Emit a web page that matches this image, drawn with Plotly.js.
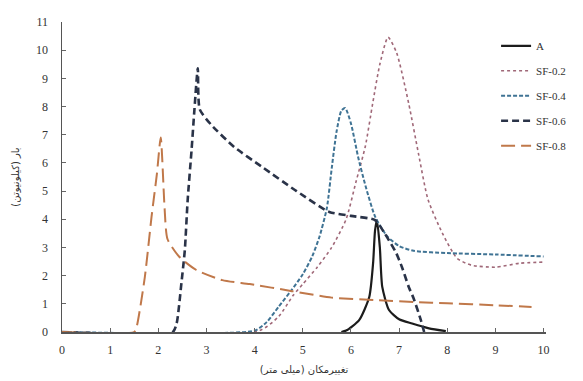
<!DOCTYPE html>
<html><head><meta charset="utf-8">
<script src="https://cdn.plot.ly/plotly-3.0.1.min.js"></script>
<style>html,body{margin:0;padding:0;background:#fff}#c{width:583px;height:381px}</style>
</head><body><div id="c"></div>
<script>
const names = ["A", "SF-0.2", "SF-0.4", "SF-0.6", "SF-0.8"];
const xA = [5.8, 5.9, 6.17, 6.38, 6.46, 6.5, 6.54, 6.6, 6.65, 6.79, 7.0, 7.27, 7.62, 7.97];
const yA = [0, 0.05, 0.42, 1.24, 2.45, 3.6, 3.97, 3.0, 1.6, 0.78, 0.45, 0.3, 0.13, 0.03];
const x02 = [0, 4.1, 4.5, 4.8, 5.0, 5.3, 5.6, 5.9, 6.1, 6.3, 6.45, 6.6, 6.77, 6.95, 7.2, 7.4, 7.6, 7.9, 8.2, 8.5, 9.0, 9.5, 10.0];
const y02 = [0, 0.05, 0.55, 1.3, 1.7, 2.3, 3.0, 4.0, 5.3, 6.6, 8.1, 9.5, 10.46, 9.9, 8.1, 6.35, 4.7, 3.5, 2.62, 2.37, 2.3, 2.44, 2.48];
const x04 = [0, 4.0, 4.25, 4.5, 4.75, 5.0, 5.2, 5.35, 5.5, 5.6, 5.7, 5.8, 5.88, 6.0, 6.15, 6.3, 6.5, 6.75, 7.0, 7.3, 8.0, 9.0, 10.0];
const y04 = [0, 0.05, 0.35, 0.9, 1.45, 2.05, 2.7, 3.4, 4.4, 5.8, 7.1, 7.85, 7.95, 7.4, 6.2, 5.2, 4.1, 3.4, 3.05, 2.88, 2.8, 2.75, 2.68];
const x06 = [0, 2.3, 2.38, 2.48, 2.55, 2.61, 2.69, 2.75, 2.82, 2.86, 3.1, 3.58, 4.16, 4.87, 5.55, 6.0, 6.5, 6.7, 6.94, 7.06, 7.2, 7.3, 7.45, 7.52];
const y06 = [0, 0, 0.3, 1.74, 2.9, 4.7, 6.45, 7.9, 9.36, 7.9, 7.35, 6.56, 5.85, 5.0, 4.26, 4.12, 3.97, 3.5, 2.8, 2.3, 1.6, 1.2, 0.43, 0];
const x08 = [0, 1.5, 1.55, 1.72, 1.86, 1.97, 2.05, 2.13, 2.19, 2.44, 2.79, 3.33, 3.9, 4.78, 5.6, 6.5, 7.35, 8.0, 9.0, 9.75];
const y08 = [0, 0, 0.18, 1.95, 4.1, 5.6, 6.9, 4.4, 3.3, 2.66, 2.2, 1.84, 1.7, 1.45, 1.22, 1.13, 1.06, 1.02, 0.95, 0.89];
const xTicks = [0,1,2,3,4,5,6,7,8,9,10];
const yTicks = [0,1,2,3,4,5,6,7,8,9,10,11];

const styles = [
  {color:"#1c1c1c", width:2.2, dash:"solid"},
  {color:"#a06878", width:1.6, dash:"dot"},
  {color:"#3f7394", width:2, dash:"4px,2px"},
  {color:"#2a3348", width:2.6, dash:"7px,4px"},
  {color:"#c0784a", width:2, dash:"14px,6px"}
];
const xs = [xA, x02, x04, x06, x08];
const ys = [yA, y02, y04, y06, y08];
const data = names.map((n,i)=>({
  x: xs[i], y: ys[i], name: n, type: "scatter", mode: "lines",
  line: Object.assign({shape:"spline", smoothing:0.6}, styles[i]),
  legendgroup: "g"+i
}));
const tf = {family:"Liberation Serif, serif", size:12, color:"#333"};
const layout = {
  width:583, height:381,
  margin:{l:62, r:36, t:22, b:49},
  paper_bgcolor:"#fff", plot_bgcolor:"#fff",
  showlegend:true,
  legend:{x:0.895, y:0.97, xanchor:"left", yanchor:"top", bgcolor:"rgba(0,0,0,0)",
    font:{family:"Liberation Serif, serif", size:11, color:"#333"}, tracegroupgap:6, traceorder:"grouped"},
  xaxis:{range:[0,10.05], tickvals:xTicks, ticktext:xTicks.map(String), ticks:"inside", ticklen:4,
    tickcolor:"#666", showline:true, linecolor:"#555", linewidth:1.5, showgrid:false, zeroline:false,
    tickfont:tf, ticklabelstandoff:6,
    title:{text:"تغییرمکان (میلی متر)", font:{family:"DejaVu Sans, sans-serif", size:10, color:"#333"}, standoff:10}},
  yaxis:{range:[0,11], tickvals:yTicks, ticktext:yTicks.map(String), ticks:"inside", ticklen:4,
    tickcolor:"#666", showline:true, linecolor:"#555", linewidth:1.5, showgrid:false, zeroline:false,
    tickfont:tf, ticklabelstandoff:10,
    title:{text:"بار (کیلونیوتن)", font:{family:"DejaVu Sans, sans-serif", size:10, color:"#333"}, standoff:14}}
};
Plotly.newPlot("c", data, layout, {displayModeBar:false, staticPlot:true});
</script></body></html>
